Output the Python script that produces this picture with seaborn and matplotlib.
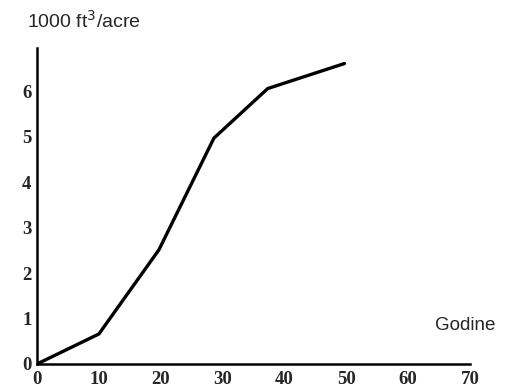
import numpy as np
import pandas as pd
import matplotlib.pyplot as plt
import seaborn as sns

# years vs volume (1000 ft^3/acre)
years = [0, 10, 19.7, 28.6, 37.3, 49.7]
volume = [0, 0.66, 2.51, 4.97, 6.06, 6.61]
x_ticks = [0, 10, 20, 30, 40, 50, 60, 70]
y_ticks = [0, 1, 2, 3, 4, 5, 6]

df = pd.DataFrame({"years": years, "volume": volume})

sns.set_style("white")
plt.rcParams['font.family'] = ['Liberation Sans Narrow', 'Liberation Sans', 'DejaVu Sans']

fig = plt.figure(figsize=(5.05, 3.9), dpi=100)
ax = fig.add_axes([0.0733, 0.0667, 0.8574, 0.81])

sns.lineplot(data=df, x="years", y="volume", ax=ax, color="black", linewidth=2.4)

ax.set_xlim(0, 70)
ax.set_ylim(0, 6.95)
ax.set_xticks(x_ticks)
ax.set_yticks(y_ticks)
ax.set_xlabel("")
ax.set_ylabel("")

for side in ["top", "right"]:
    ax.spines[side].set_visible(False)
for side in ["left", "bottom"]:
    ax.spines[side].set_linewidth(1.8)
    ax.spines[side].set_color("black")

ax.tick_params(axis="both", direction="in", length=5, width=1.5, color="black")
ax.tick_params(axis="x", pad=5)
ax.tick_params(axis="y", pad=4)
for lab in ax.get_xticklabels() + ax.get_yticklabels():
    lab.set_family(["Liberation Serif", "DejaVu Serif"])
    lab.set_fontweight("bold")
    lab.set_fontsize(13.5)

fig.text(0.980, 0.165, "Godine", fontsize=13.5, ha="right", va="center")
fig.text(0.0535, 0.928, "1000 ft$^3$/acre", fontsize=14, ha="left", va="baseline")

fig.savefig("out.png", dpi=100)
